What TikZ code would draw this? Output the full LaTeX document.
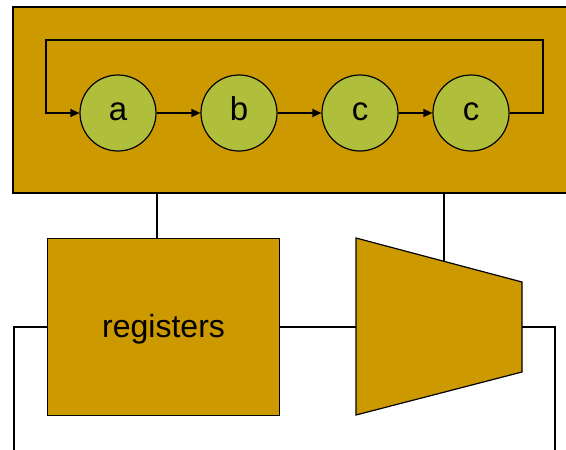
\documentclass[tikz,border=0pt]{standalone}
\usepackage{fontspec}
\setmainfont{Liberation Sans}
\usetikzlibrary{arrows.meta}
\definecolor{mustard}{RGB}{204,153,0}
\definecolor{leaf}{RGB}{175,191,60}
\begin{document}
\begin{tikzpicture}[x=1pt,y=-1pt,
  wire/.style={line width=1.4pt,black},
  arr/.style={wire,-{Triangle[length=9pt,width=8pt]}},
  stage/.style={circle,draw=black,line width=1.2pt,fill=leaf,minimum size=76pt,inner sep=0pt,font=\fontsize{33}{35}\selectfont,text height=14pt,text depth=0pt},
  blockbox/.style={draw=black,line width=1.2pt,fill=mustard}]
\useasboundingbox (0,0) rectangle (566,450);
\fill[white] (0,0) rectangle (566,450);
% top box
\draw[blockbox] (13,7) rectangle (580,193);
\coordinate (topA) at (157,193);
\coordinate (topB) at (444,193);
% stages
\node[stage] (a) at (118,113) {a};
\node[stage] (b) at (239,113) {b};
\node[stage] (c1) at (360,113) {c};
\node[stage] (c2) at (471,113) {c};
\draw[arr] (b.east) -- (c1.west);
\draw[arr] (a.east) -- (b.west);
\draw[arr] (c1.east) -- (c2.west);
\draw[arr] (c2.east) -- (543,113) -- (543,40) -- (46,40) -- (46,113) -- (a.west);
% registers
\node[blockbox,minimum width=232pt,minimum height=177pt,inner sep=0pt,anchor=north west,font=\fontsize{32}{34}\selectfont,text height=20pt,text depth=0pt] (reg) at (47,238) {registers};
% trapezoid (ALU)
\draw[blockbox] (356,238) -- (522,282) -- (522,372) -- (356,415) -- cycle;
\coordinate (aluIn) at (356,327);
\coordinate (aluOut) at (522,327);
\coordinate (aluTop) at (444,261.4);
% connections
\draw[wire] (topA) -- (reg.north -| topA);
\draw[wire] (topB) -- (aluTop);
\draw[wire] (reg.east |- aluIn) -- (aluIn);
\coordinate (lb) at (14,452);
\coordinate (rb) at (555,452);
\draw[wire] (reg.west |- aluIn) -- (lb |- aluIn) -- (lb);
\draw[wire] (aluOut) -- (rb |- aluOut) -- (rb);
\end{tikzpicture}
\end{document}
